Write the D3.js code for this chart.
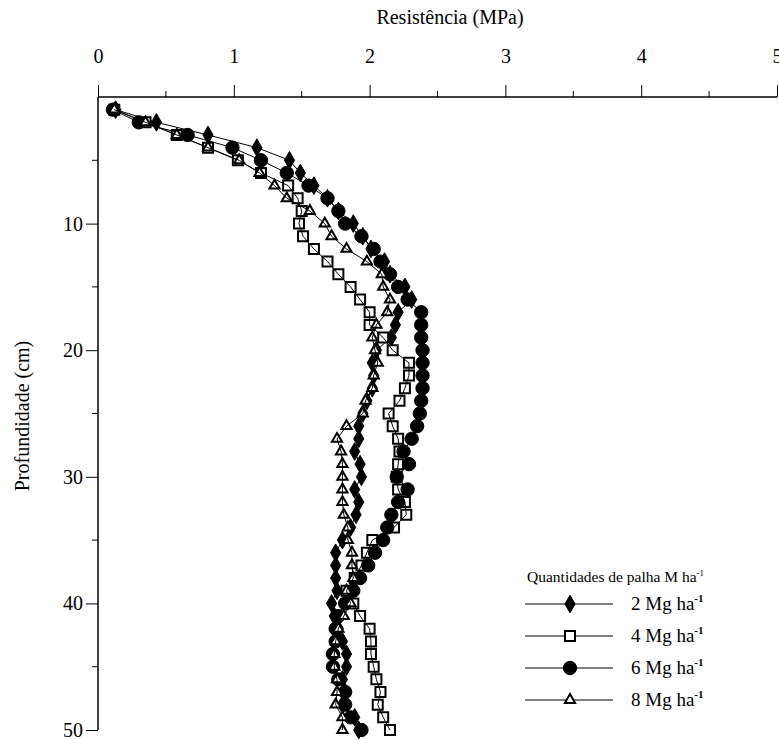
<!DOCTYPE html>
<html>
<head>
<meta charset="utf-8">
<script src="https://cdn.jsdelivr.net/npm/d3@7"></script>
<style>
  body { margin: 0; background: #fff; }
  svg text { font-family: "Liberation Serif", "Times New Roman", serif; fill: #000; }
</style>
</head>
<body>
<svg id="chart" width="779" height="740"></svg>
<script>
// depth (cm) 1..50
const depths = d3.range(1, 51);

// resistance (MPa) per depth, one array per straw amount
const palha2 = [0.13, 0.43, 0.81, 1.17, 1.41, 1.49, 1.59, 1.69, 1.77, 1.88,
                1.95, 2.01, 2.11, 2.15, 2.26, 2.31, 2.21, 2.19, 2.16, 2.05,
                2.02, 2.03, 2.02, 1.98, 1.95, 1.92, 1.92, 1.89, 1.93, 1.94,
                1.89, 1.92, 1.90, 1.86, 1.80, 1.75, 1.75, 1.75, 1.76, 1.72,
                1.74, 1.77, 1.80, 1.83, 1.83, 1.80, 1.82, 1.80, 1.89, 1.92];
const palha4 = [0.12, 0.35, 0.58, 0.81, 1.03, 1.20, 1.40, 1.47, 1.50, 1.48,
                1.51, 1.59, 1.69, 1.77, 1.86, 1.93, 2.00, 2.00, 2.10, 2.17,
                2.29, 2.29, 2.26, 2.22, 2.14, 2.17, 2.21, 2.22, 2.21, 2.20,
                2.21, 2.26, 2.27, 2.18, 2.02, 1.98, 1.94, 1.89, 1.83, 1.88,
                1.93, 2.00, 2.01, 2.01, 2.03, 2.05, 2.08, 2.06, 2.10, 2.15];
const palha6 = [0.11, 0.30, 0.66, 0.99, 1.20, 1.39, 1.55, 1.69, 1.77, 1.82,
                1.94, 2.03, 2.08, 2.15, 2.21, 2.28, 2.38, 2.38, 2.38, 2.39,
                2.39, 2.39, 2.39, 2.38, 2.37, 2.35, 2.31, 2.25, 2.29, 2.20,
                2.28, 2.21, 2.16, 2.13, 2.10, 2.04, 1.99, 1.93, 1.88, 1.82,
                1.77, 1.75, 1.75, 1.73, 1.73, 1.77, 1.82, 1.82, 1.86, 1.94];
const palha8 = [0.12, 0.35, 0.58, 0.81, 1.04, 1.19, 1.30, 1.39, 1.56, 1.67,
                1.72, 1.83, 1.98, 2.09, 2.10, 2.15, 2.13, 2.05, 2.02, 2.04,
                2.06, 2.03, 2.02, 1.97, 1.95, 1.83, 1.76, 1.79, 1.80, 1.80,
                1.80, 1.80, 1.81, 1.84, 1.84, 1.87, 1.87, 1.88, 1.83, 1.86,
                1.81, 1.77, 1.75, 1.74, 1.74, 1.76, 1.76, 1.75, 1.80, 1.80];

const seriesNames = ['2 Mg ha', '4 Mg ha', '6 Mg ha', '8 Mg ha'];
const seriesValues = [palha2, palha4, palha6, palha8];
const seriesSymbols = ['diamond', 'square', 'circle', 'triangle'];

const xTicks = [0, 1, 2, 3, 4, 5];
const yTicks = [10, 20, 30, 40, 50];

const svg = d3.select('#chart');

const x = d3.scaleLinear().domain([0, 5]).range([98, 777]);
const y = d3.scaleLinear().domain([0, 50]).range([97, 730]);

// marker drawing
const symbolFor = {
    diamond: d3.symbol().type(d3.symbolDiamond).size(90),
    square: d3.symbol().type(d3.symbolSquare).size(100),
    circle: d3.symbol().type(d3.symbolCircle).size(140),
    triangle: d3.symbol().type(d3.symbolTriangle).size(45)
};

function styleMarker(sel, kind) {
    if (kind === 'diamond' || kind === 'circle') {
        sel.attr('fill', '#000').attr('stroke', '#000').attr('stroke-width', 1);
    } else {
        sel.attr('fill', '#fff').attr('stroke', '#000').attr('stroke-width', 2);
    }
}

// top axis
const xAxis = d3.axisTop(x).tickValues(xTicks).tickSize(12).tickPadding(22)
    .tickFormat(d3.format('d'));
const gx = svg.append('g').attr('transform', `translate(0,${y(0)})`).call(xAxis);
gx.append('g').selectAll('line')
    .data([0.5, 1.5, 2.5, 3.5, 4.5])
    .join('line')
    .attr('x1', d => x(d)).attr('x2', d => x(d))
    .attr('y1', 0).attr('y2', -6)
    .attr('stroke', '#000');

// left axis
const yAxis = d3.axisLeft(y).tickValues(yTicks).tickSize(12).tickPadding(3);
const gy = svg.append('g').attr('transform', `translate(${x(0)},0)`).call(yAxis);
gy.append('g').selectAll('line')
    .data([5, 15, 25, 35, 45])
    .join('line')
    .attr('x1', 0).attr('x2', -6)
    .attr('y1', d => y(d)).attr('y2', d => y(d))
    .attr('stroke', '#000');

[gx, gy].forEach(g => {
    g.attr('font-family', null);
    g.select('.domain').attr('stroke', '#000').attr('stroke-width', 1.5);
    g.selectAll('.tick line').attr('stroke', '#000');
    g.selectAll('.tick text').attr('font-size', 20);
});
gy.select('.domain').attr('d', `M0,${y(0)}V${y(50)}`);
gx.select('.domain').attr('d', `M${x(0)},0H${x(5)}`);

// axis titles
svg.append('text')
    .attr('x', 450)
    .attr('y', 24)
    .attr('text-anchor', 'middle')
    .attr('font-size', 20)
    .text('Resistência (MPa)');

svg.append('text')
    .attr('transform', `translate(29,416) rotate(-90)`)
    .attr('text-anchor', 'middle')
    .attr('font-size', 20)
    .text('Profundidade (cm)');

// series
const line = d3.line()
    .x(d => x(d.v))
    .y(d => y(d.depth));

seriesValues.forEach((values, i) => {
    const pts = depths.map((depth, j) => ({ depth: depth, v: values[j] }));
    const kind = seriesSymbols[i];
    const g = svg.append('g');

    g.selectAll('path.mark')
        .data(pts)
        .join('path')
        .attr('class', 'mark')
        .attr('d', symbolFor[kind])
        .attr('transform', d => `translate(${x(d.v)},${y(d.depth)})`)
        .call(styleMarker, kind);

    g.append('path')
        .datum(pts)
        .attr('d', line)
        .attr('fill', 'none')
        .attr('stroke', '#000')
        .attr('stroke-width', 1);
});

// legend
const legend = svg.append('g').attr('transform', 'translate(527,0)');
const legendTitle = legend.append('text')
    .attr('x', 0).attr('y', 582)
    .attr('font-size', 15.5);
legendTitle.append('tspan').text('Quantidades de palha M ha');
legendTitle.append('tspan').attr('font-size', 9).attr('dy', -6).text('-1');

seriesNames.forEach((name, i) => {
    const ly = 604 + i * 32;
    legend.append('line')
        .attr('x1', -2).attr('x2', 86)
        .attr('y1', ly).attr('y2', ly)
        .attr('stroke', '#000');
    legend.append('path')
        .attr('d', symbolFor[seriesSymbols[i]])
        .attr('transform', `translate(43,${ly})`)
        .call(styleMarker, seriesSymbols[i]);
    const t = legend.append('text')
        .attr('x', 104).attr('y', ly + 6)
        .attr('font-size', 19);
    t.append('tspan').text(name);
    t.append('tspan').attr('font-size', 11).attr('font-weight', 'bold').attr('dy', -8).text('-1');
});
</script>
</body>
</html>
